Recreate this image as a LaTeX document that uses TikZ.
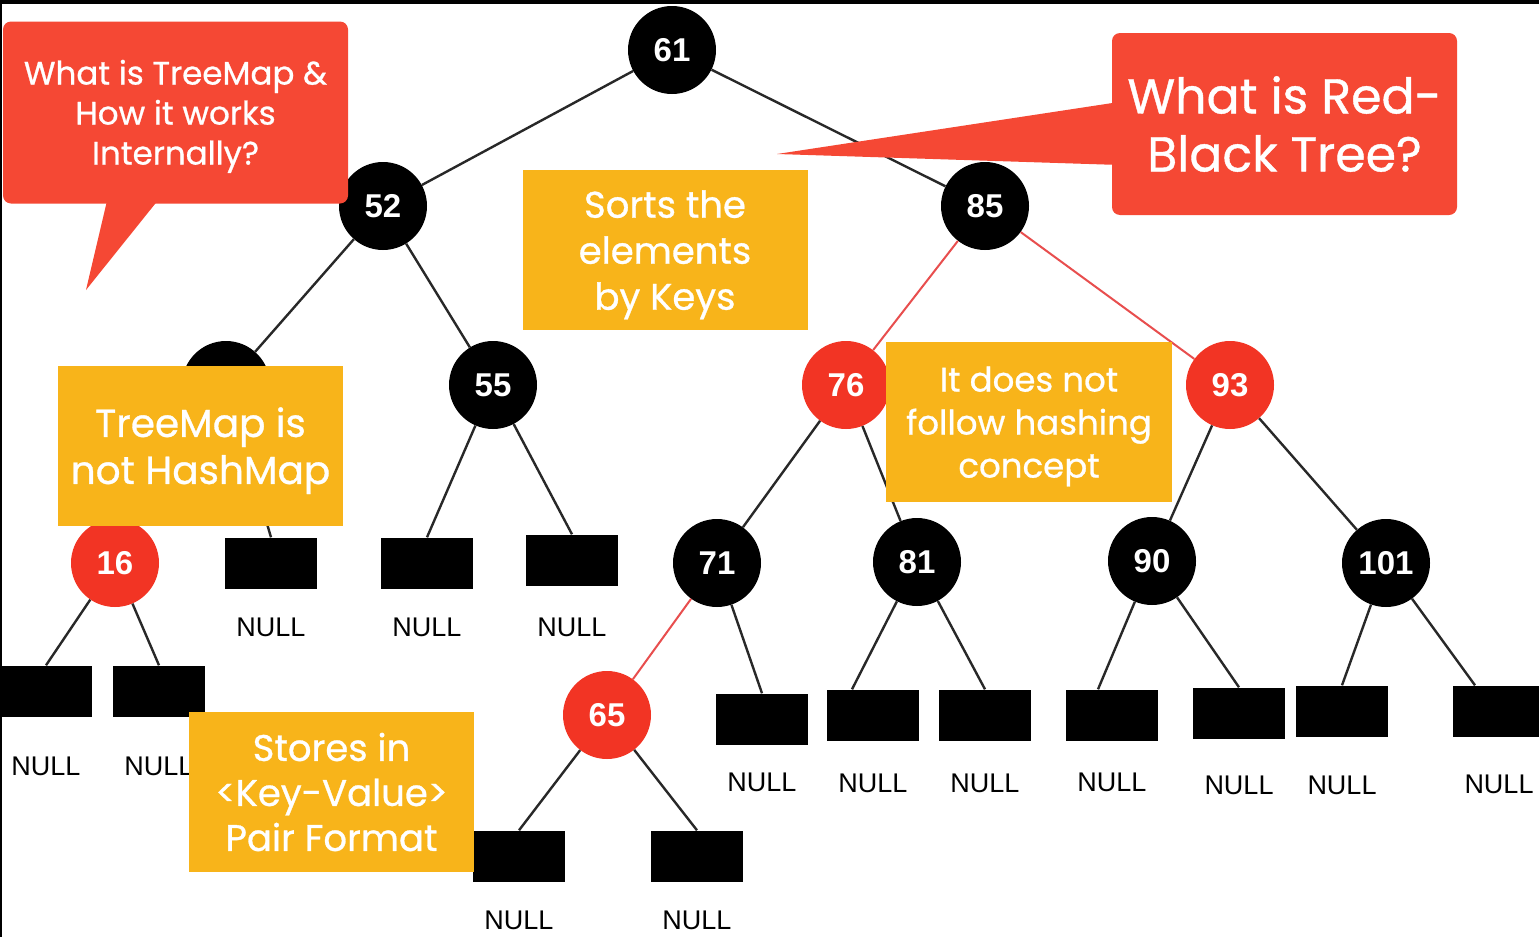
\documentclass[tikz,border=0pt]{standalone}
\usepackage{fontspec}
\setmainfont{Poppins}
\newfontfamily\notefont{Poppins}[FakeBold=0.8]
\newfontfamily\numfont{Liberation Sans}
\newcommand{\topgap}{\rule{0pt}{1em}}
\usetikzlibrary{positioning,calc}

\definecolor{askred}{RGB}{245,72,52}
\definecolor{nodered}{RGB}{242,52,36}
\definecolor{linered}{RGB}{232,78,78}
\definecolor{noteyellow}{RGB}{248,180,26}
\definecolor{linegray}{RGB}{40,40,40}

\begin{document}
\begin{tikzpicture}[x=1pt, y=-1pt,
		blk/.style={circle, fill=black, minimum size=88pt, inner sep=0pt, text=white, font=\numfont\bfseries\fontsize{33}{33}\selectfont},
		rd/.style={blk, fill=nodered},
		nul/.style={fill=black, minimum width=92pt, minimum height=51pt, inner sep=0pt},
		nultxt/.style={inner sep=0pt, font=\numfont\fontsize{27}{27}\selectfont},
		ln/.style={draw=linegray, line width=2.4pt},
		rln/.style={draw=linered, line width=2pt},
		note/.style={fill=noteyellow, text=white, inner sep=0pt, align=center, minimum width=285pt, minimum height=160pt},
		ask/.style={fill=askred, text=white, rounded corners=8pt, inner sep=0pt, align=center, minimum width=345pt, minimum height=182pt}]
	\path[use as bounding box, fill=white] (0,0) rectangle (1539,937);

	% tree nodes
	\node[blk] (n61) at (672,50) {61};
	\node[blk] (n52) at (383,206) {52};
	\node[blk] (n85) at (985,206) {85};
	\node[blk] (nh) at (226,385) {};
	\node[blk] (n55) at (493,385) {55};
	\node[rd] (n76) at (846,385) {76};
	\node[rd] (n93) at (1230,385) {93};
	\node[rd] (n16) at (115,563) {16};
	\node[blk] (n71) at (717,563) {71};
	\node[blk] (n81) at (917,562) {81};
	\node[blk] (n90) at (1152,561) {90};
	\node[blk] (n101) at (1386,563) {101};
	\node[rd] (n65) at (607,715) {65};

	% NULL leaves
	\foreach \k/\x/\y/\d in {la/271/563/29pt, lb/427/563/29pt, lc/572/560/32pt, ld/46/691/40pt, le/159/691/40pt,
			lf/762/719/28pt, lg/873/715/33pt, lh/985/715/33pt, li/1112/715/32pt, lj/1239/713/37pt,
			lk/1342/711/39pt, ll/1499/711/38pt, lm/519/856/29pt, ln/697/856/29pt} {
		\node[nul] (\k) at (\x,\y) {};
		\node[nultxt, below=\d of \k] (\k t) {NULL};
	}

	\foreach \a/\b in {n61/n52, n61/n85, n52/nh, n52/n55, n76/n71, n76/n81, n93/n90, n93/n101} \draw[ln] (\a) -- (\b);
	\foreach \a/\b in {n85/n76, n85/n93, n71/n65} \draw[rln] (\a) -- (\b);
	\foreach \a/\b/\o in {nh/la/0pt, n55/lb/0pt, n55/lc/0pt, n16/ld/0pt, n16/le/0pt, n71/lf/0pt, n81/lg/-21pt, n81/lh/0pt,
			n90/li/-14pt, n90/lj/0pt, n101/lk/0pt, n101/ll/-24pt, n65/lm/0pt, n65/ln/0pt} \draw[ln] (\a) -- ([xshift=\o]\b.north);

	% yellow notes
	\node[note, font=\notefont\fontsize{37}{46}\selectfont] (ys) at (665,250) {\topgap Sorts the\\elements\\by Keys};
	\node[note, font=\notefont\fontsize{34}{43}\selectfont, minimum width=286pt] (yh) at (1029,422) {\topgap It does not\\follow hashing\\concept};
	\node[note, font=\notefont\fontsize{39}{47}\selectfont] (yt) at (200.5,446) {\topgap TreeMap is\\not HashMap};
	\node[note, font=\notefont\fontsize{37}{45}\selectfont] (yk) at (331.5,792) {Stores in\\<Key-Value>\\Pair Format};

	% red callouts
	\node[ask, font=\notefont\fontsize{32.5}{40}\selectfont] (q1) at (175.5,112.5) {\topgap What is TreeMap \&\\How it works\\Internally?};
	\coordinate (t1) at (86,290);
	\fill[askred] ([xshift=104pt, yshift=2pt]q1.south west) -- (t1) -- ([xshift=154pt, yshift=2pt]q1.south west) -- cycle;
	\node[ask, font=\notefont\fontsize{49}{58}\selectfont] (q2) at (1284.5,124) {What is Red-\\Black Tree?};
	\coordinate (t2) at (777,154);
	\fill[askred] ([xshift=2pt, yshift=-70pt]q2.north west) -- (t2) -- ([xshift=2pt, yshift=-132pt]q2.north west) -- cycle;

	% frame
	\fill[black] (0,0) rectangle (1539,4);
	\fill[black] (0,0) rectangle (2,937);
\end{tikzpicture}
\end{document}
